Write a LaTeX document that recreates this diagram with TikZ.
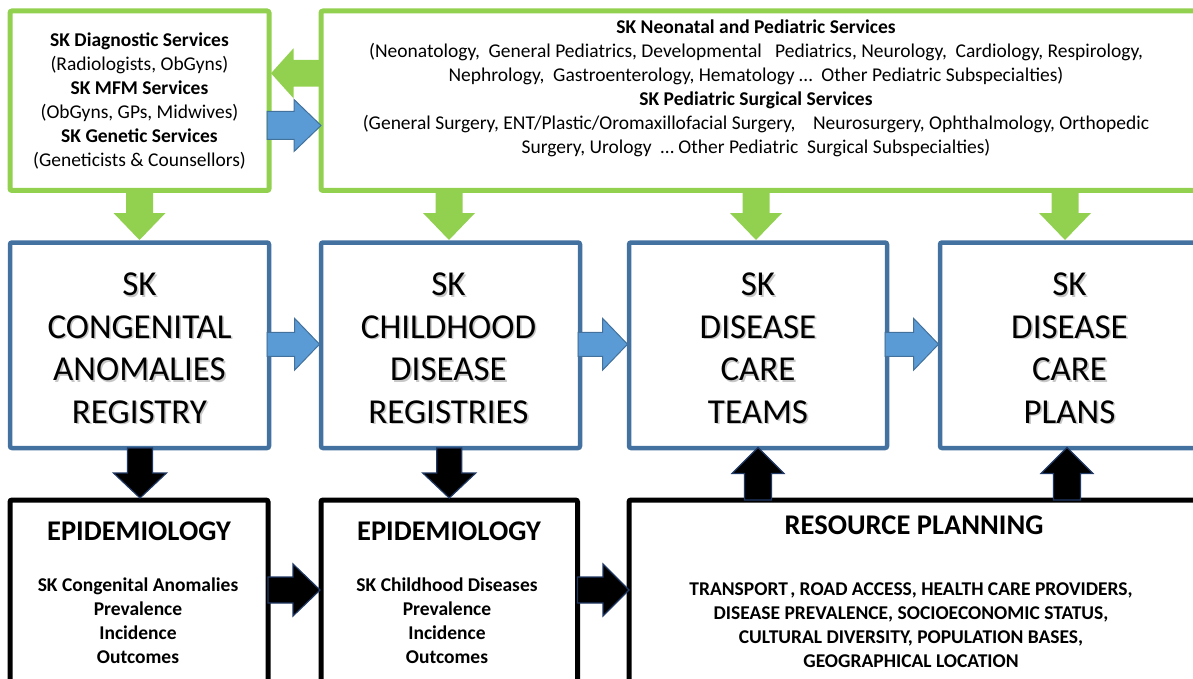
\documentclass[tikz,border=0pt]{standalone}
\usepackage{fontspec}
\setmainfont{Carlito}
\usetikzlibrary{calc}
\definecolor{grn}{RGB}{146,208,80}
\definecolor{bluebd}{RGB}{68,114,160}
\definecolor{bluefill}{RGB}{91,155,213}
\definecolor{blueline}{RGB}{65,113,156}
\definecolor{navy}{RGB}{31,56,100}
\newcommand\smallfs{\fontsize{19.5}{24}\selectfont}
\newcommand\bigfs{\fontsize{35}{42.5}\selectfont}
\newcommand\titlefs{\fontsize{28.5}{34}\selectfont\bfseries}
% block arrows: #1 style, #2 start, #3 tip, #4 shaft half width, #5 head half width, #6 head length
\newcommand\arrR[6]{\path[#1] let \p1=(#2), \p2=(#3) in (\x1,\y1+#4pt) -- (\x2-#6pt,\y1+#4pt) -- (\x2-#6pt,\y1+#5pt) -- (\x2,\y1) -- (\x2-#6pt,\y1-#5pt) -- (\x2-#6pt,\y1-#4pt) -- (\x1,\y1-#4pt) -- cycle;}
\newcommand\arrL[6]{\path[#1] let \p1=(#2), \p2=(#3) in (\x1,\y1+#4pt) -- (\x2+#6pt,\y1+#4pt) -- (\x2+#6pt,\y1+#5pt) -- (\x2,\y1) -- (\x2+#6pt,\y1-#5pt) -- (\x2+#6pt,\y1-#4pt) -- (\x1,\y1-#4pt) -- cycle;}
\newcommand\arrD[6]{\path[#1] let \p1=(#2), \p2=(#3) in (\x1-#4pt,\y1) -- (\x1-#4pt,\y2+#6pt) -- (\x1-#5pt,\y2+#6pt) -- (\x1,\y2) -- (\x1+#5pt,\y2+#6pt) -- (\x1+#4pt,\y2+#6pt) -- (\x1+#4pt,\y1) -- cycle;}
\newcommand\arrU[6]{\path[#1] let \p1=(#2), \p2=(#3) in (\x1-#4pt,\y1) -- (\x1-#4pt,\y2-#6pt) -- (\x1-#5pt,\y2-#6pt) -- (\x1,\y2) -- (\x1+#5pt,\y2-#6pt) -- (\x1+#4pt,\y2-#6pt) -- (\x1+#4pt,\y1) -- cycle;}
\begin{document}
\begin{tikzpicture}[x=1pt,y=-1pt,
  boxbase/.style={inner sep=0pt,outer sep=0pt,anchor=north west,rounded corners=2pt,fill=white},
  gbox/.style={boxbase,draw=grn,line width=5pt},
  bbox/.style={boxbase,draw=bluebd,line width=4.5pt},
  kbox/.style={boxbase,draw=black,line width=5pt},
  smalltxt/.style={align=center,font=\smallfs,inner sep=0pt},
  bigtxt/.style={align=center,font=\bigfs,inner sep=0pt},
  bigshadow/.style={bigtxt,text=black!22},
  titletxt/.style={font=\titlefs,inner sep=0pt},
  garr/.style={fill=grn},
  barr/.style={fill=bluefill,draw=blueline,line width=1pt,line join=miter},
  karr/.style={fill=black,draw=navy,line width=1.2pt,line join=miter}]
\useasboundingbox (0,0) rectangle (1193,679);
\clip (0,0) rectangle (1193,679);

% top row
\node[gbox,minimum width=259pt,minimum height=179.5pt,font=\smallfs,align=center] (tl) at (10,11)
 {\textbf{SK Diagnostic Services}\\(Radiologists, ObGyns)\\\textbf{SK MFM Services}\\(ObGyns, GPs, Midwives)\\\textbf{SK Genetic Services}\\(Geneticists \& Counsellors)};
\node[gbox,minimum width=900pt,minimum height=179.5pt] (tr) at (321,11) {};
\node[smalltxt] (trt) at (756,88.5)
 {\textbf{SK Neonatal and Pediatric Services}\\
 (Neonatology,\ \ General Pediatrics, Developmental\ \ \ Pediatrics, Neurology,\ \ Cardiology, Respirology,\\
 Nephrology,\ \ Gastroenterology, Hematology …\ \ Other Pediatric Subspecialties)\\
 \textbf{SK Pediatric Surgical Services}\\
 (General Surgery, ENT/Plastic/Oromaxillofacial Surgery,\ \ \ \ Neurosurgery, Ophthalmology, Orthopedic\\
 Surgery, Urology\ \ … Other Pediatric\ \ Surgical Subspecialties)};

% middle row
\node[bbox,minimum width=259pt,minimum height=205.5pt] (r1) at (10,242.5) {};
\node[bbox,minimum width=259pt,minimum height=205.5pt] (r2) at (321,242.5) {};
\node[bbox,minimum width=258pt,minimum height=205.5pt] (r3) at (629,242.5) {};
\node[bbox,minimum width=259pt,minimum height=205.5pt] (r4) at (940,242.5) {};
\node[bigshadow] (r1s) at ($(r1.center)+(1.6,4.6)$) {SK\\CONGENITAL\\ANOMALIES\\REGISTRY};
\node[bigtxt] (r1t) at ($(r1.center)+(0,3)$) {SK\\CONGENITAL\\ANOMALIES\\REGISTRY};
\node[bigshadow] (r2s) at ($(r2.center)+(-0.4,4.6)$) {SK\\CHILDHOOD\\DISEASE\\REGISTRIES};
\node[bigtxt] (r2t) at ($(r2.center)+(-2,3)$) {SK\\CHILDHOOD\\DISEASE\\REGISTRIES};
\node[bigshadow] (r3s) at ($(r3.center)+(1.6,4.6)$) {SK\\DISEASE\\CARE\\TEAMS};
\node[bigtxt] (r3t) at ($(r3.center)+(0,3)$) {SK\\DISEASE\\CARE\\TEAMS};
\node[bigshadow] (r4s) at ($(r4.center)+(1.6,4.6)$) {SK\\DISEASE\\CARE\\PLANS};
\node[bigtxt] (r4t) at ($(r4.center)+(0,3)$) {SK\\DISEASE\\CARE\\PLANS};

% bottom row
\node[kbox,minimum width=258pt,minimum height=200pt] (b1) at (10,500) {};
\node[kbox,minimum width=256.5pt,minimum height=200pt] (b2) at (321,500) {};
\node[kbox,minimum width=600pt,minimum height=200pt] (b3) at (629,500) {};
\node[titletxt] (b1h) at (139,531) {EPIDEMIOLOGY};
\node[smalltxt,font=\smallfs\bfseries] (b1t) at (138,620.5) {SK Congenital Anomalies\\Prevalence\\Incidence\\Outcomes};
\node[titletxt] (b2h) at (449,531) {EPIDEMIOLOGY};
\node[smalltxt,font=\smallfs\bfseries] (b2t) at (447,620.5) {SK Childhood Diseases\\Prevalence\\Incidence\\Outcomes};
\node[titletxt] (b3h) at (914,525) {RESOURCE PLANNING};
\node[smalltxt,font=\smallfs\bfseries] (b3t) at (911,625.5) {TRANSPORT\hspace{0.12em}, ROAD ACCESS, HEALTH CARE PROVIDERS,\\DISEASE PREVALENCE, SOCIOECONOMIC STATUS,\\CULTURAL DIVERSITY, POPULATION BASES,\\GEOGRAPHICAL LOCATION};

% arrow end points
\coordinate (ga1) at ($(tr.north west)+(0,62.3)$);
\coordinate (ga2) at ($(tl.north east)+(2,62.3)$);
\coordinate (ba1) at ($(tl.north east)+(-2,114.5)$);
\coordinate (ba2) at ($(tr.north west)+(0,115)$);
\coordinate (gd1b) at ($(r1.north)+(0,-2.5)$);
\coordinate (gd2b) at ($(r2.north)+(-1.5,-2.5)$);
\coordinate (gd2a) at (gd2b |- tr.south);
\coordinate (gd3b) at ($(r3.north)+(-2,-2.5)$);
\coordinate (gd3a) at (gd3b |- tr.south);
\coordinate (gd4b) at ($(r4.north)+(-4.5,-2.5)$);
\coordinate (gd4a) at (gd4b |- tr.south);
\coordinate (bm1a) at ($(r1.east)+(-2,-1)$);
\coordinate (bm1b) at ($(r2.west)+(-1.5,-1)$);
\coordinate (bm2a) at ($(r2.east)+(-2,-1)$);
\coordinate (bm2b) at ($(r3.west)+(-1.5,-1)$);
\coordinate (bm3a) at ($(r3.east)+(-2,-1)$);
\coordinate (bm3b) at ($(r4.west)+(-1.5,-1)$);
\coordinate (kd1b) at ($(b1.north)+(1,-2)$);
\coordinate (kd1a) at (kd1b |- r1.south);
\coordinate (kd2b) at ($(b2.north)+(0,-2)$);
\coordinate (kd2a) at (kd2b |- r2.south);
\coordinate (ku1b) at ($(r3.south)+(0,-0.5)$);
\coordinate (ku1a) at (ku1b |- b3.north);
\coordinate (ku2b) at ($(r4.south)+(-2.5,-0.5)$);
\coordinate (ku2a) at (ku2b |- b3.north);
\coordinate (kr1a) at ($(b1.north east)+(0,90)$);
\coordinate (kr1b) at ($(b2.north west)+(-1,90)$);
\coordinate (kr2a) at ($(b2.north east)+(0,90)$);
\coordinate (kr2b) at ($(b3.north west)+(0,90)$);

% green arrows
\arrL{garr}{ga1}{ga2}{13.3}{25}{22.5}
\arrD{garr}{tl.south}{gd1b}{13.5}{26}{27}
\arrD{garr}{gd2a}{gd2b}{13.5}{26}{27}
\arrD{garr}{gd3a}{gd3b}{13.5}{26}{27}
\arrD{garr}{gd4a}{gd4b}{13.5}{26}{27}
% blue arrows
\arrR{barr}{ba1}{ba2}{14}{26}{27}
\arrR{barr}{bm1a}{bm1b}{12}{26}{25}
\arrR{barr}{bm2a}{bm2b}{12}{26}{25}
\arrR{barr}{bm3a}{bm3b}{12}{26}{25}
% black arrows
\arrD{karr}{kd1a}{kd1b}{12.5}{26.5}{25}
\arrD{karr}{kd2a}{kd2b}{12.5}{26.5}{25}
\arrU{karr}{ku1a}{ku1b}{13.5}{26}{26}
\arrU{karr}{ku2a}{ku2b}{13.5}{26}{26}
\arrR{karr}{kr1a}{kr1b}{13}{26}{27}
\arrR{karr}{kr2a}{kr2b}{13}{26}{26}
\end{tikzpicture}
\end{document}
